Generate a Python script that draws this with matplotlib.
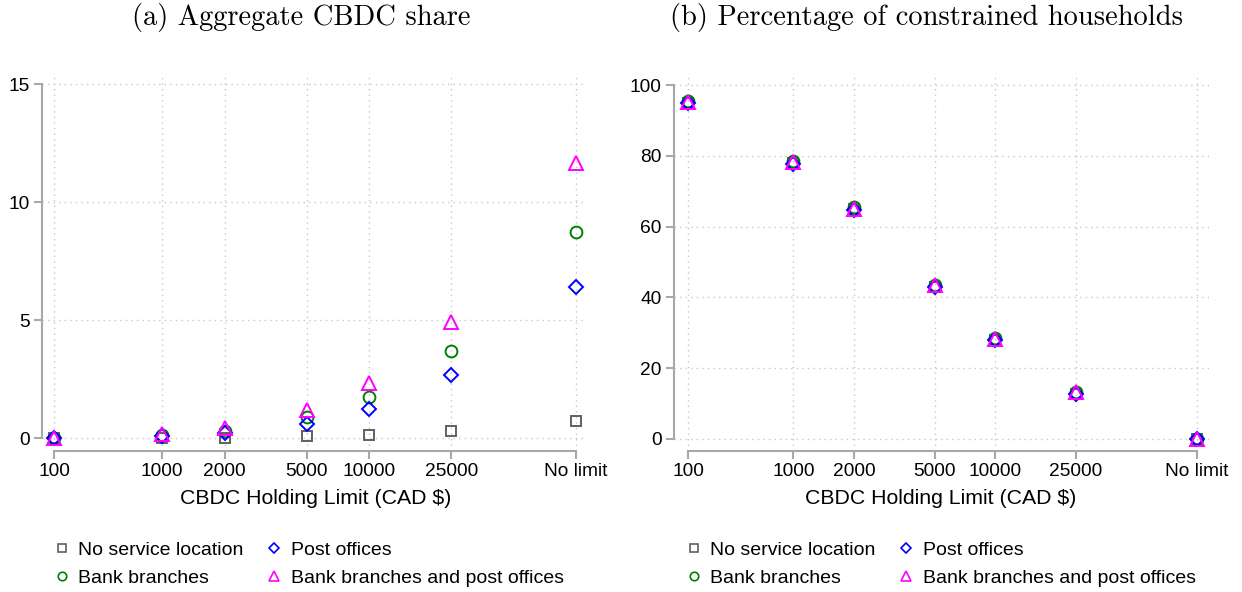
import numpy as np
import matplotlib
matplotlib.use("Agg")
import matplotlib.pyplot as plt
from matplotlib.lines import Line2D

# ---------------- data ----------------
limit_labels = ["100", "1000", "2000", "5000", "10000", "25000", "No limit"]
# placement of each category on the (log) x axis as in the original figure
limit_plot_x = [300, 1000, 2000, 5000, 10000, 25000, 100000]

series_names = ["No service location", "Bank branches", "Post offices",
                "Bank branches and post offices"]

# (a) Aggregate CBDC share (%)
share_none = [0.0, 0.0, 0.0, 0.07, 0.14, 0.31, 0.71]
share_bank = [0.0, 0.11, 0.28, 0.89, 1.72, 3.67, 8.74]
share_post = [0.0, 0.10, 0.21, 0.61, 1.23, 2.65, 6.38]
share_both = [0.0, 0.17, 0.42, 1.20, 2.33, 4.91, 11.64]

# (b) Percentage of constrained households
constr_none = [95.0, 78.0, 65.0, 42.8, 28.0, 12.7, 0.0]
constr_bank = [95.6, 78.6, 65.5, 43.6, 28.5, 13.3, 0.0]
constr_post = [94.8, 77.8, 64.8, 42.9, 27.9, 12.8, 0.0]
constr_both = [95.2, 78.2, 65.1, 43.5, 28.3, 13.3, 0.0]

titles = ["(a) Aggregate CBDC share", "(b) Percentage of constrained households"]
xlabel = "CBDC Holding Limit (CAD $)"

# ---------------- style ----------------
plt.rcParams['font.family'] = ['Liberation Sans', 'DejaVu Sans']
W, H = 1242, 592
fig = plt.figure(figsize=(W / 100, H / 100), dpi=100)

styles = [dict(marker='s', color='#606060', ms=7.5),
          dict(marker='o', color='#008000', ms=8.5),
          dict(marker='D', color='#0000ff', ms=7),
          dict(marker='^', color='#ff00ff', ms=9.5)]

axis_col = '#a8a8a8'
grid_col = '#c8c8c8'
TICK_FS = 13.8


def px_axes(l, r, t, b):
    return fig.add_axes([l / W, (H - b) / H, (r - l) / W, (b - t) / H])


def setup(ax, data, ylim, yticks, xlim_log):
    for vals, st in zip(data, styles):
        ax.plot(limit_plot_x, vals, linestyle='none', marker=st['marker'],
                ms=st['ms'], mfc='none', mec=st['color'], mew=1.4)
    ax.set_xscale('log')
    ax.set_xlim(10 ** xlim_log[0], 10 ** xlim_log[1])
    ax.set_ylim(*ylim)
    ax.xaxis.set_minor_locator(matplotlib.ticker.NullLocator())
    ax.set_xticks(limit_plot_x)
    ax.set_xticklabels(limit_labels)
    ax.set_yticks(yticks)
    ax.set_yticklabels([str(v) for v in yticks])
    for s in ['top', 'right']:
        ax.spines[s].set_visible(False)
    ax.spines['left'].set_bounds(yticks[0], yticks[-1])
    ax.spines['bottom'].set_bounds(limit_plot_x[0], limit_plot_x[-1])
    for s in ['left', 'bottom']:
        ax.spines[s].set_color(axis_col)
        ax.spines[s].set_linewidth(1.5)
    ax.tick_params(axis='both', colors=axis_col, labelcolor='black',
                   labelsize=TICK_FS, length=6, width=1.5, direction='out',
                   pad=3)
    ax.grid(True, linestyle=(0, (1, 3)), color=grid_col, linewidth=1.0)
    ax.set_axisbelow(True)
    ax.patch.set_alpha(0)


axA = px_axes(42, 587, 73, 451)
setup(axA, [share_none, share_bank, share_post, share_both],
      (-0.55, 15.47), [0, 5, 10, 15], (2.419, 5.053))
axB = px_axes(674, 1209, 73, 451)
setup(axB, [constr_none, constr_bank, constr_post, constr_both],
      (-3.4, 103.4), [0, 20, 40, 60, 80, 100], (2.408, 5.059))

# titles
fig.text(301 / W, 1 - 17 / H, titles[0], family='cmr10', fontsize=20.5,
         ha='center', va='center')
fig.text(926 / W, 1 - 17 / H, titles[1], family='cmr10', fontsize=20.5,
         ha='center', va='center')

# x labels
fig.text(316 / W, 1 - 498 / H, xlabel, fontsize=15.3, ha='center',
         va='center')
fig.text(941 / W, 1 - 498 / H, xlabel, fontsize=15.3, ha='center',
         va='center')

# legends
handles = [Line2D([], [], linestyle='none', marker=st['marker'],
                  ms=st['ms'] * 0.72, mfc='none', mec=st['color'], mew=1.2)
           for st in styles]
for ax, x0 in [(axA, 54), (axB, 686)]:
    ax.legend(handles, series_names, loc='center left',
              bbox_to_anchor=(x0 / W, 1 - 564 / H),
              bbox_transform=fig.transFigure, ncol=2, frameon=False,
              fontsize=14, handlelength=0.8, handletextpad=0.43,
              columnspacing=1.2, labelspacing=0.52, borderpad=0,
              borderaxespad=0)

fig.savefig('out.png', dpi=100)
